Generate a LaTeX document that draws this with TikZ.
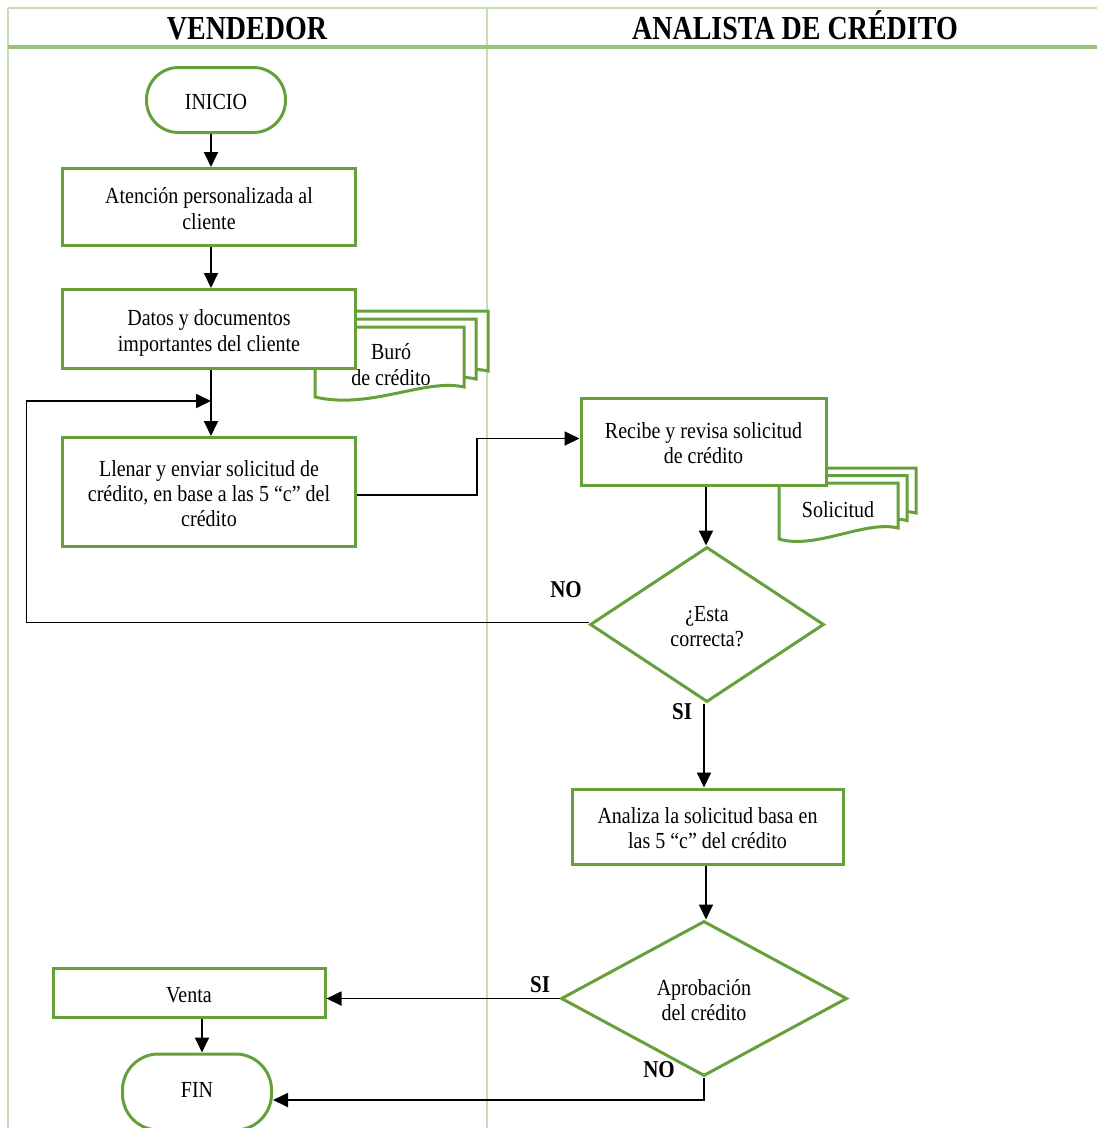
\documentclass[tikz,border=0pt]{standalone}
\usepackage{fontspec}
\setmainfont{Liberation Serif}
\usepackage{graphicx}
\usetikzlibrary{arrows.meta,shapes.geometric}
\definecolor{gbox}{RGB}{102,160,58}
\definecolor{gline}{RGB}{196,222,178}
\definecolor{ghead}{RGB}{155,194,126}
\newcommand{\tx}[1]{\raisebox{-4.5pt}[\height][\depth]{\scalebox{1}[1.15]{\begin{tabular}{@{}c@{}}#1\end{tabular}}}}
\begin{document}
\begin{tikzpicture}[x=1pt,y=-1pt,
  box/.style={draw=gbox,line width=3pt,fill=white,inner sep=0pt,font=\fontsize{20}{22}\selectfont},
  term/.style={box,rounded corners=#1},
  dia/.style={box,diamond},
  doc/.style={draw=gbox,line width=3pt,fill=white},
  plain/.style={inner sep=0pt,font=\fontsize{20}{22}\selectfont},
  arr/.style={draw=black,line width=1.8pt,-{Triangle[length=15pt,width=14pt]}},
  lbl/.style={inner sep=0pt,font=\fontsize{21}{24}\selectfont\bfseries},
  head/.style={inner sep=0pt,anchor=base,font=\fontsize{28}{30}\selectfont\bfseries}]
\useasboundingbox (0,0) rectangle (1097,1128);
% swimlane frame
\draw[gline,line width=1.5pt] (8,8) -- (1097,8);
\draw[gline,line width=1.5pt] (8,8) -- (8,1128);
\draw[gline,line width=1.5pt] (487,8) -- (487,1128);
\draw[ghead,line width=3.5pt] (8,47) -- (1097,47);
\node[head] (h1) at (247,39) {\scalebox{1}[1.2]{VENDEDOR}};
\node[head] (h2) at (795,39) {\scalebox{1}[1.2]{ANALISTA DE CRÉDITO}};
% document stacks
\foreach \d in {2,1,0}{
  \begin{scope}[shift={(12*\d,-8*\d)}]
    \draw[doc] (315,327) -- (464,327) -- (464,387) .. controls (425,378) and (370,410) .. (315,397) -- cycle;
  \end{scope}
  \begin{scope}[shift={(9*\d,-7.5*\d)}]
    \draw[doc] (779,483) -- (898,483) -- (898,528) .. controls (865,520) and (815,550) .. (779,539) -- cycle;
  \end{scope}
}
\node[plain] (buro) at (391,363) {\tx{Buró\\de crédito}};
\node[plain] (sol) at (838,508) {\tx{Solicitud}};
% nodes
\node[term=32pt,minimum width=139pt,minimum height=65pt] (ini) at (216,100) {\tx{INICIO}};
\node[box,minimum width=293pt,minimum height=77pt] (att) at (209,207) {\tx{Atención personalizada al\\cliente}};
\node[box,minimum width=293pt,minimum height=79pt] (dat) at (209,329) {\tx{Datos y documentos\\importantes del cliente}};
\node[box,minimum width=293pt,minimum height=109pt] (lle) at (209,492) {\tx{Llenar y enviar solicitud de\\crédito, en base a las 5 “c” del\\crédito}};
\node[box,minimum width=245pt,minimum height=87pt] (rec) at (703.5,441.5) {\tx{Recibe y revisa solicitud\\de crédito}};
\node[dia,minimum width=234pt,minimum height=155pt] (d1) at (707,624.5) {\tx{¿Esta\\correcta?}};
\node[box,minimum width=271pt,minimum height=75pt] (ana) at (707.5,826.5) {\tx{Analiza la solicitud basa en\\las 5 “c” del crédito}};
\node[dia,minimum width=286pt,minimum height=155pt] (d2) at (704,998.5) {\tx{Aprobación\\del crédito}};
\node[box,minimum width=272pt,minimum height=49pt] (venta) at (189,992.5) {\tx{Venta}};
\node[term=36pt,minimum width=149pt,minimum height=76pt] (fin) at (197,1092) {\raisebox{4pt}[\height][\depth]{\tx{FIN}}};
% labels
\node[lbl] (no1) at (566,590) {\scalebox{1}[1.15]{NO}};
\node[lbl] (si1) at (682,712) {\scalebox{1}[1.15]{SI}};
\node[lbl] (si2) at (540,985) {\scalebox{1}[1.15]{SI}};
\node[lbl] (no2) at (659,1070) {\scalebox{1}[1.15]{NO}};
% connectors
\coordinate (loopin) at (211,401);
\draw[arr] ([xshift=2pt]att.north |- ini.south) -- ([xshift=2pt]att.north);
\draw[arr] ([xshift=2pt]att.south) -- ([xshift=2pt]dat.north);
\draw[arr] ([xshift=2pt]dat.south) -- ([xshift=2pt]lle.north);
\draw[arr] ([yshift=2pt]d1.west) -- ++(-562,0) |- (loopin);
\draw[arr] ([yshift=-3pt]lle.east) -- ++(120,0) |- ([yshift=3pt]rec.west);
\draw[arr] ([xshift=-1pt]d1.north |- rec.south) -- ([xshift=-1pt]d1.north);
\draw[arr] ([xshift=-3pt]d1.south) -- ([xshift=-3pt]d1.south |- ana.north);
\draw[arr] ([xshift=2pt]d2.north |- ana.south) -- ([xshift=2pt]d2.north);
\draw[arr] (d2.west) -- (venta.east |- d2.west);
\draw[arr] (d2.south) |- ([yshift=-8pt]fin.east);
\draw[arr] ([xshift=13pt]venta.south) -- ([xshift=5pt]fin.north);
\end{tikzpicture}
\end{document}
